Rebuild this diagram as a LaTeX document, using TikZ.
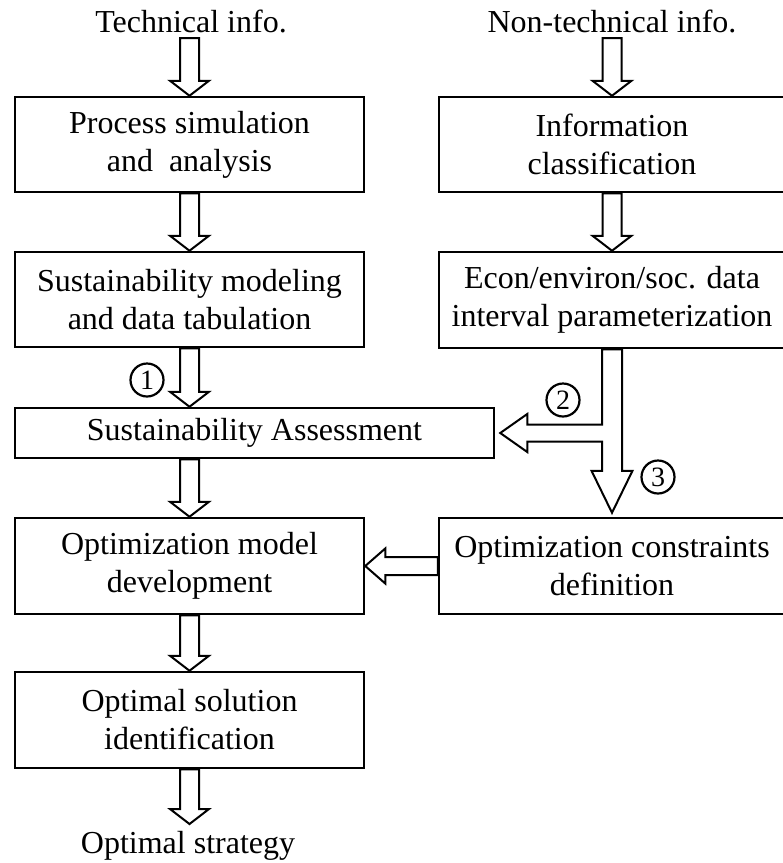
\documentclass[tikz,border=0pt]{standalone}
\usepackage{fontspec}
\setmainfont{Liberation Serif}
\usetikzlibrary{calc}
\newcommand\dnarrow[2]{%
  \draw[barrow] let \p1=(#1), \p2=(#2) in
   (\x2-9.5pt,\y1) -- (\x2-9.5pt,\y2+15pt) -- (\x2-19.5pt,\y2+15pt) -- (\x2,\y2)
   -- (\x2+19.5pt,\y2+15pt) -- (\x2+9.5pt,\y2+15pt) -- (\x2+9.5pt,\y1) -- cycle;}
\begin{document}
\begin{tikzpicture}[x=1pt,y=-1pt,
  box/.style={draw, line width=2.5pt, inner sep=0pt, align=center,
    font=\fontsize{32}{38}\selectfont},
  lbox/.style={box, minimum width=349pt},
  rbox/.style={box, minimum width=346pt},
  txt/.style={inner sep=0pt, font=\fontsize{32}{38}\selectfont},
  barrow/.style={draw, fill=white, line width=2pt, line join=miter},
  num/.style={draw, circle, line width=2.2pt, minimum size=33pt, inner sep=0pt,
    font=\fontsize{28}{28}\selectfont}]
\useasboundingbox (0,0) rectangle (783,863);
\clip (0,0) rectangle (783,863);

% texts at the ends
\node[txt, anchor=base] (ti) at (191,32) {Technical info.};
\node[txt, anchor=base] (nti) at (612,32) {Non-technical info.};
\node[txt, anchor=base] (ostr) at (188,853) {Optimal strategy};
\coordinate (t0) at (189.5,38);
\coordinate (t1) at (612,38);
\coordinate (t2) at (189.5,824);

% left column
\node[lbox, minimum height=95pt] (ps) at (189.5,144.5) {Process simulation\\and\ \ analysis};
\node[lbox, minimum height=95pt] (sm) at (189.5,299.5) {Sustainability modeling\\and data tabulation};
\node[box, minimum width=479pt, minimum height=50pt] (sa) at (254.5,433) {Sustainability Assessment};
\node[lbox, minimum height=96pt] (om) at (189.5,566) {Optimization model\\development};
\node[lbox, minimum height=96pt] (osol) at (189.5,720) {Optimal solution\\identification};

% right column
\node[rbox, minimum height=95pt] (ic) at (612,144.5) {Information\\classification};
\node[rbox, minimum height=96pt] (ec) at (612,300) {Econ/environ/soc. data\\interval parameterization};
\node[rbox, minimum height=96pt] (cd) at (612,566) {Optimization constraints\\definition};

% vertical block arrows
\dnarrow{t0}{ps.north}
\dnarrow{ps.south}{sm.north}
\dnarrow{sm.south}{sa.north -| sm.south}
\dnarrow{sa.south -| om.north}{om.north}
\dnarrow{om.south}{osol.north}
\dnarrow{osol.south}{t2}
\dnarrow{t1}{ic.north}
\dnarrow{ic.south}{ec.north}

% split arrow from ec to sa and cd
\draw[barrow] let \p1=(ec.south), \p2=(sa.east), \p3=(cd.north) in
  (\x1-10pt,\y1) -- (\x1-10pt,\y2+8.5pt) -- (\x2+32pt,\y2+8.5pt)
  -- (\x2+32pt,\y2+19pt) -- (\x2+5pt,\y2) -- (\x2+32pt,\y2-19pt)
  -- (\x2+32pt,\y2-8.5pt) -- (\x1-10pt,\y2-8.5pt) -- (\x1-10pt,\y3+46pt)
  -- (\x1-20.5pt,\y3+46pt) -- (\x1,\y3+4pt) -- (\x1+20.5pt,\y3+46pt)
  -- (\x1+10pt,\y3+46pt) -- (\x1+10pt,\y1) -- cycle;

% horizontal arrow cd -> om
\draw[barrow] let \p1=(cd.west), \p2=(om.east) in
  (\x1,\y1+9pt) -- (\x2+20pt,\y1+9pt) -- (\x2+20pt,\y1+17.5pt) -- (\x2,\y1)
  -- (\x2+20pt,\y1-17.5pt) -- (\x2+20pt,\y1-9pt) -- (\x1,\y1-9pt) -- cycle;

% circled numbers
\node[num] (n1) at (147,380) {1};
\node[num] (n2) at (563,400) {2};
\node[num] (n3) at (658,477) {3};
\end{tikzpicture}
\end{document}
